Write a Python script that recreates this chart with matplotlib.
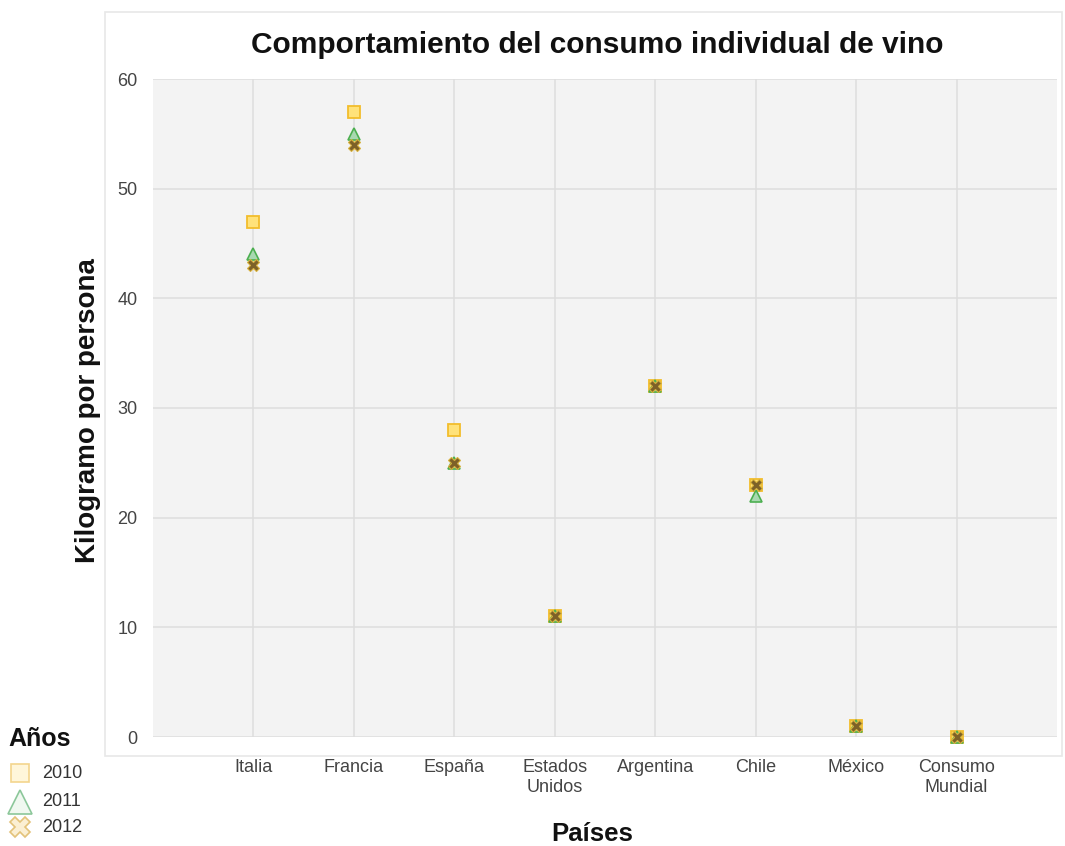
import matplotlib
matplotlib.use("Agg")
import matplotlib.pyplot as plt
from matplotlib.patches import Rectangle

plt.rcParams['font.family'] = ['Liberation Sans', 'DejaVu Sans']

paises = ["Italia", "Francia", "España", "Estados\nUnidos", "Argentina",
          "Chile", "México", "Consumo\nMundial"]
anios = ["2010", "2011", "2012"]
consumo_2010 = [47, 57, 28, 11, 32, 23, 1, 0]
consumo_2011 = [44, 55, 25, 11, 32, 22, 1, 0]
consumo_2012 = [43, 54, 25, 11, 32, 23, 1, 0]
y_ticks = [0, 10, 20, 30, 40, 50, 60]

W, H = 1065, 846
fig = plt.figure(figsize=(W / 100, H / 100), dpi=100)
fig.patch.set_facecolor('white')

# light frame around the chart panel
fig.add_artist(Rectangle((105 / W, 1 - 756 / H), (1062 - 105) / W, (756 - 12) / H,
                         transform=fig.transFigure, fill=False,
                         edgecolor='#e8e8e8', linewidth=1.2))

ax = fig.add_axes([153 / W, 1 - 737 / H, (1057 - 153) / W, (737 - 79) / H])
ax.set_facecolor('#f3f3f3')
for s in ax.spines.values():
    s.set_visible(False)

x = list(range(len(paises)))
styles = [
    dict(marker='s', ms=8.5, mfc='#ffe27a', mec='#f2bd2c', mew=1.3),
    dict(marker='^', ms=8.5, mfc='#a8d8b0', mec='#4caf50', mew=1.2),
    dict(marker='X', ms=8.5, mfc='#7d6128', mec='#d9b23c', mew=0.8),
]
for vals, st in zip([consumo_2010, consumo_2011, consumo_2012], styles):
    ax.plot(x, vals, linestyle='none', zorder=3, clip_on=False, **st)

ax.set_xlim(-1, len(paises))
ax.set_ylim(0, 60)
ax.set_xticks(x)
ax.set_xticklabels(paises, fontsize=13, color='#444444', linespacing=1.2)
ax.set_yticks(y_ticks)
ax.set_yticklabels([str(v) for v in y_ticks], fontsize=13, color='#444444')
ax.tick_params(axis='both', length=0)
ax.tick_params(axis='x', pad=16)
ax.tick_params(axis='y', pad=11)
ax.grid(True, color='#dedede', linewidth=1.1)
ax.set_axisbelow(True)

fig.text(597 / W, 1 - 45 / H, "Comportamiento del consumo individual de vino",
         ha='center', va='center', fontsize=21.5, fontweight='bold', color='#111111')
fig.text(88 / W, 1 - 411 / H, "Kilogramo por persona", rotation=90,
         ha='center', va='center', fontsize=20, fontweight='bold', color='#111111')
fig.text(592 / W, 1 - 834 / H, "Países", ha='center', va='center',
         fontsize=18.5, fontweight='bold', color='#111111')

# legend in figure pixel coordinates
lg = fig.add_axes([0, 0, 1, 1], zorder=5)
lg.set_xlim(0, W)
lg.set_ylim(H, 0)
lg.axis('off')
lg.patch.set_alpha(0)
lg.text(8, 739, "Años", ha='left', va='center', fontsize=18,
        fontweight='bold', color='#111111')
leg_styles = [
    dict(marker='s', ms=13, mfc='#fff6da', mec='#f3d58e', mew=1.2),
    dict(marker='^', ms=17, mfc='#f0f8f0', mec='#8cc79a', mew=1.2),
    dict(marker='X', ms=15, mfc='#fbefd3', mec='#e3c27a', mew=1.2),
]
leg_y = [773, 802, 827]
for lab, st, yy in zip(anios, leg_styles, leg_y):
    lg.plot([20], [yy], linestyle='none', **st)
    lg.text(42, yy, lab, ha='left', va='center', fontsize=13, color='#333333')

fig.savefig("out.png", dpi=100, facecolor='white')
